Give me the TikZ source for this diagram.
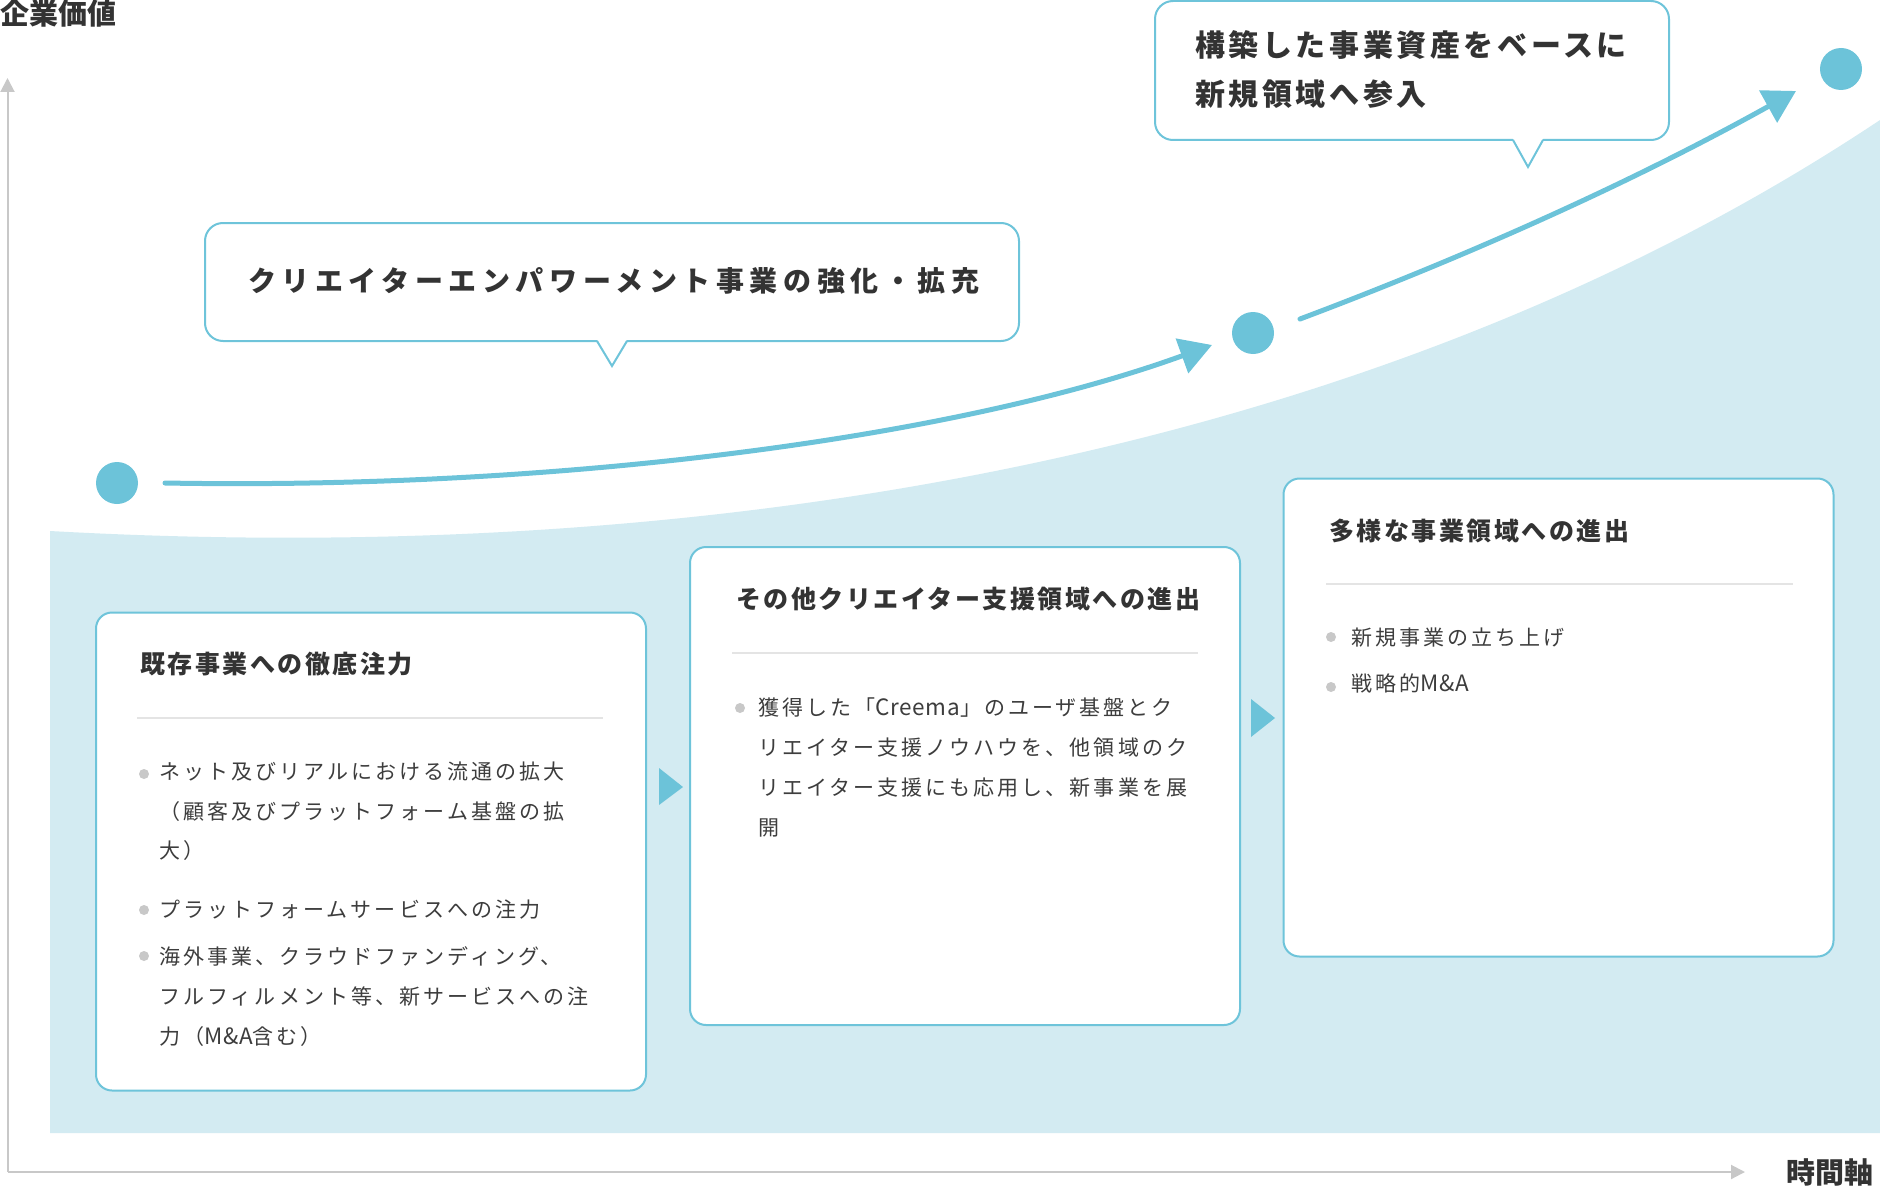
\documentclass[tikz,border=0pt]{standalone}
\usepackage{fontspec}
\setmainfont{Noto Sans CJK JP}
\usetikzlibrary{arrows.meta}
\definecolor{fillblue}{HTML}{D3EBF2}
\definecolor{accent}{HTML}{6CC3D9}
\definecolor{cardline}{HTML}{6EC4DA}
\definecolor{axisgray}{HTML}{C8C8C8}
\definecolor{sepgray}{HTML}{E4E4E4}
\definecolor{dotgray}{HTML}{C8C8C8}
\definecolor{titletext}{HTML}{333333}
\definecolor{bodytext}{HTML}{3D3D3D}
\newcommand\cardtitlefont{\fontsize{25pt}{30pt}\selectfont\bfseries\addfontfeatures{LetterSpace=10}}
\newcommand\cardbodyfont{\fontsize{21pt}{26pt}\selectfont\addfontfeatures{LetterSpace=14.5}}
\newcommand\calloutfont{\fontsize{28pt}{34pt}\selectfont\bfseries\addfontfeatures{LetterSpace=20}}
\newcommand\calloutfontb{\fontsize{30pt}{36pt}\selectfont\bfseries\addfontfeatures{LetterSpace=12}}
\newcommand\axislabelfont{\fontsize{29pt}{34pt}\selectfont\bfseries}
\newcommand\latin[1]{{\fontsize{22.5pt}{26pt}\selectfont\addfontfeatures{LetterSpace=3}#1}}
\tikzset{
  card/.style={draw=cardline, line width=2pt, fill=white, rounded corners=16pt, minimum width=550pt, minimum height=478pt, inner sep=0pt},
  callout/.style={draw=cardline, line width=2pt, fill=white, rounded corners=18pt, inner sep=0pt},
  tail/.style={draw=cardline, line width=2pt, line join=miter},
  bodyline/.style={anchor=base west, inner sep=0pt, text=bodytext, font=\cardbodyfont},
  cardtitle/.style={anchor=base west, inner sep=0pt, text=titletext, font=\cardtitlefont},
  bulletdot/.style={circle, fill=dotgray, minimum size=10pt, inner sep=0pt},
  sepline/.style={draw=sepgray, line width=2pt},
  flow/.style={draw=accent, line width=5pt, line cap=round, -{Triangle[length=32pt,width=36pt]}},
  bigdot/.style={circle, fill=accent, minimum size=42pt, inner sep=0pt},
  axisline/.style={draw=axisgray, line width=2pt, -{Triangle[length=14pt,width=14pt]}},
  axislabel/.style={anchor=base west, inner sep=0pt, text=titletext, font=\axislabelfont},
  stepmark/.style={fill=accent}
}
\begin{document}
\begin{tikzpicture}[x=1pt,y=-1pt]
\useasboundingbox (0,0) rectangle (1880,1188);
% background growth area
\fill[fillblue] (50,531) .. controls (750,570) and (1400,440) .. (1880,120) -- (1880,1133) -- (50,1133) -- cycle;
% axes
\coordinate (origin) at (7.5,1172);
\coordinate (ytip) at (7.5,78);
\coordinate (xtip) at (1745,1172);
\draw[axisline] (origin) -- (ytip);
\draw[axisline] (origin) -- (xtip);
\node[axislabel] (ylab) at (0,25) {企業価値};
\node[axislabel] (xlab) at (1786,1183) {時間軸};
% cards
\node[card] (box1) at (371,851.5) {};
\node[card] (box2) at (965,786) {};
\node[card] (box3) at (1558.5,717.5) {};
% step triangles
\fill[stepmark] (659,768) -- (683,787) -- (659,805) -- cycle;
\fill[stepmark] (1251,699) -- (1275,718) -- (1251,737) -- cycle;
% card 1
\node[cardtitle] (t1) at (140,673.5) {既存事業への徹底注力};
\draw[sepline] (137,718) -- (603,718);
\node[bulletdot] (b11) at (144,774) {};
\node[bodyline] (l11) at (159,779) {ネット及びリアルにおける流通の拡大};
\node[bodyline] (l12) at (159,819) {（顧客及びプラットフォーム基盤の拡};
\node[bodyline] (l13) at (159,858) {大）};
\node[bulletdot] (b12) at (144,910) {};
\node[bodyline] (l14) at (159,917) {プラットフォームサービスへの注力};
\node[bulletdot] (b13) at (144,956) {};
\node[bodyline] (l15) at (159,964) {海外事業、クラウドファンディング、};
\node[bodyline] (l16) at (159,1004) {フルフィルメント等、新サービスへの注};
\node[bodyline] (l17) at (159,1044) {力（\latin{M\&A}含む）};
% card 2
\node[cardtitle] (t2) at (736,608.5) {その他クリエイター支援領域への進出};
\draw[sepline] (732,653) -- (1198,653);
\node[bulletdot] (b21) at (740,708) {};
\node[bodyline] (l21) at (758,715) {獲得した「\latin{Creema}」のユーザ基盤とク};
\node[bodyline] (l22) at (758,755) {リエイター支援ノウハウを、他領域のク};
\node[bodyline] (l23) at (758,795) {リエイター支援にも応用し、新事業を展};
\node[bodyline] (l24) at (758,835) {開};
% card 3
\node[cardtitle] (t3) at (1329,540.5) {多様な事業領域への進出};
\draw[sepline] (1326,584) -- (1793,584);
\node[bulletdot] (b31) at (1331,637) {};
\node[bodyline] (l31) at (1351,645) {新規事業の立ち上げ};
\node[bulletdot] (b32) at (1331,687) {};
\node[bodyline] (l32) at (1351,691) {戦略的\latin{M\&A}};
% callout 1
\node[callout, minimum width=814pt, minimum height=118pt] (call1) at (612,282) {};
\fill[white] (596,338) -- (612,364) -- (628,338) -- cycle;
\draw[tail] (597,341) -- (612,366) -- (627,341);
\node[anchor=base west, inner sep=0pt, text=titletext, font=\calloutfont] (call1txt) at (248,291) {クリエイターエンパワーメント事業の強化・拡充};
% callout 2
\node[callout, minimum width=514pt, minimum height=139pt] (call2) at (1412,70.5) {};
\fill[white] (1512,137) -- (1528,165) -- (1544,137) -- cycle;
\draw[tail] (1513,140) -- (1528,167) -- (1543,140);
\node[anchor=base west, inner sep=0pt, text=titletext, font=\calloutfontb] (call2a) at (1195,57) {構築した事業資産をベースに};
\node[anchor=base west, inner sep=0pt, text=titletext, font=\calloutfontb] (call2b) at (1195,106) {新規領域へ参入};
% milestones and growth arrows
\node[bigdot] (dot1) at (117,483) {};
\node[bigdot] (dot2) at (1253,333) {};
\node[bigdot] (dot3) at (1841,69) {};
\coordinate (c1s) at (165,483);
\coordinate (c1e) at (1212,345);
\coordinate (c2s) at (1300,319);
\coordinate (c2e) at (1796,91);
\draw[flow] (c1s) .. controls (550,490) and (950,440) .. (c1e);
\draw[flow] (c2s) .. controls (1465,257) and (1631,183) .. (c2e);
\end{tikzpicture}
\end{document}
